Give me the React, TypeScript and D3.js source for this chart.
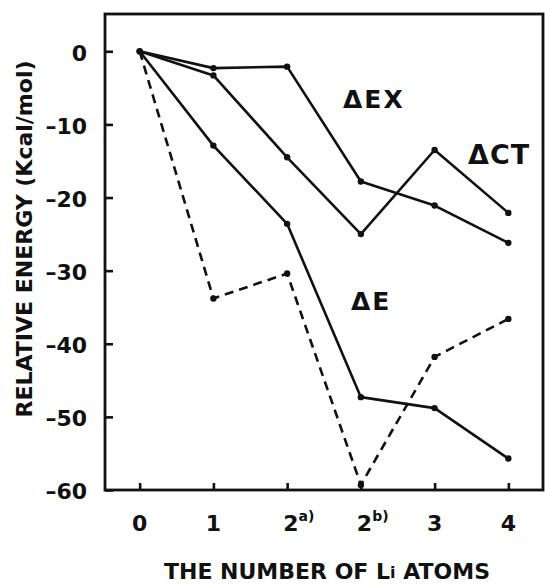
import React, { useEffect, useRef } from 'react';
import * as d3 from 'd3';

// categories on the x axis (2a / 2b carry a superscript note)
const categories = ['0', '1', '2a', '2b', '3', '4'];
const categoryBase = ['0', '1', '2', '2', '3', '4'];
const categorySup = ['', '', 'a)', 'b)', '', ''];

// relative energies, Kcal/mol
const exValues = [0, -2.3, -2.1, -17.8, -21.1, -26.2];
const ctValues = [0, -3.3, -14.5, -25.0, -13.5, -22.1];
const eValues = [0, -12.9, -23.6, -47.3, -48.8, -55.7];
const eDashedValues = [0, -33.8, -30.4, -59.3, -41.8, -36.6];

const yTicks = [0, -10, -20, -30, -40, -50, -60];

const FONT = '"DejaVu Sans", sans-serif';
const INK = '#111';

const W = 545;
const H = 585;
const left = 105;
const right = 543;
const top = 14;
const bottom = 490;

export default function App(): JSX.Element {
  const axisLeftRef = useRef<SVGGElement>(null);
  const axisBottomRef = useRef<SVGGElement>(null);

  const xScale = d3.scalePoint<string>().domain(categories).range([left, right]).padding(0.47);
  const yScale = d3.scaleLinear().domain([-60, 5.1]).range([bottom, top]);

  const line = d3
    .line<number>()
    .x((_, i) => xScale(categories[i]) as number)
    .y((d) => yScale(d));

  useEffect(() => {
    const axisLeftEl = d3.select(axisLeftRef.current);
    const axisBottomEl = d3.select(axisBottomRef.current);
    axisLeftEl.selectAll('*').remove();
    axisBottomEl.selectAll('*').remove();

    // left: inward ticks, labels with a dash
    axisLeftEl.call(
      d3
        .axisLeft(yScale)
        .tickValues(yTicks)
        .tickSizeInner(-8)
        .tickSizeOuter(0)
        .tickPadding(18)
        .tickFormat((d) => (+d === 0 ? '0' : '\u2013' + Math.abs(+d)))
    );
    axisLeftEl.select('.domain').remove();
    axisLeftEl.selectAll('line').attr('stroke', INK).attr('stroke-width', 2.6);
    axisLeftEl
      .selectAll('text')
      .attr('fill', INK)
      .attr('font-family', FONT)
      .attr('font-weight', 'bold')
      .attr('font-size', 22)
      .attr('dy', '0.4em');

    // bottom: inward ticks, labels built by hand for the superscripts
    axisBottomEl.call(
      d3
        .axisBottom(xScale)
        .tickSizeInner(-7)
        .tickSizeOuter(0)
        .tickFormat(() => '')
    );
    axisBottomEl.select('.domain').remove();
    axisBottomEl.selectAll('line').attr('stroke', INK).attr('stroke-width', 2.6);
    axisBottomEl.selectAll('.tick text').remove();

    axisBottomEl
      .selectAll('text.lbl')
      .data(categories)
      .enter()
      .append('text')
      .attr('class', 'lbl')
      .attr('x', (d, i) => (xScale(d) as number) + (categorySup[i] ? -4 : 0))
      .attr('y', 41)
      .attr('text-anchor', (d, i) => (categorySup[i] ? 'start' : 'middle'))
      .attr('fill', INK)
      .attr('font-family', FONT)
      .attr('font-weight', 'bold')
      .attr('font-size', 22)
      .each(function (d, i) {
        const t = d3.select(this);
        t.append('tspan').text(categoryBase[i]);
        if (categorySup[i]) {
          t.append('tspan').attr('dy', -10).attr('font-size', 14).text(categorySup[i]);
        }
      });
  }, []);

  const series = [
    { values: exValues, dash: undefined },
    { values: ctValues, dash: undefined },
    { values: eValues, dash: undefined },
    { values: eDashedValues, dash: '9 6' }
  ];

  return (
    <svg
      width={W}
      height={H}
      style={{ position: 'absolute', left: 0, top: 0, background: '#fff' }}
    >
      {/* frame */}
      <rect
        x={left}
        y={top}
        width={right - left}
        height={bottom - top}
        fill="none"
        stroke={INK}
        strokeWidth={2.8}
      />
      <g ref={axisLeftRef} transform={`translate(${left},0)`} />
      <g ref={axisBottomRef} transform={`translate(0,${bottom})`} />

      {series.map((s, si) => (
        <g key={si}>
          <path
            d={line(s.values) || ''}
            fill="none"
            stroke={INK}
            strokeWidth={2.6}
            strokeDasharray={s.dash}
            strokeLinejoin="round"
          />
          {s.values.map((v, i) =>
            i === 0 ? null : (
              <circle key={i} cx={xScale(categories[i])} cy={yScale(v)} r={3.2} fill={INK} />
            )
          )}
        </g>
      ))}
      <circle cx={xScale('0')} cy={yScale(0)} r={3.4} fill={INK} />

      {/* series labels */}
      <g fill={INK} fontFamily={FONT} fontWeight="bold">
        <text x={343} y={108} fontSize={25} letterSpacing={2}>
          ΔEX
        </text>
        <text x={468} y={164} fontSize={27} letterSpacing={1}>
          ΔCT
        </text>
        <text x={351} y={310} fontSize={25} letterSpacing={2}>
          ΔE
        </text>
      </g>

      {/* axis titles */}
      <g fill={INK} fontFamily={FONT} fontWeight="bold" fontSize={22}>
        <text x={327} y={579} textAnchor="middle">
          THE NUMBER OF L
          <tspan fontSize={16} dy={-1}>
            i
          </tspan>
          <tspan dy={1}> ATOMS</tspan>
        </text>
        <text transform="translate(32,239) rotate(-90)" textAnchor="middle">
          RELATIVE ENERGY (Kcal/mol)
        </text>
      </g>
    </svg>
  );
}
